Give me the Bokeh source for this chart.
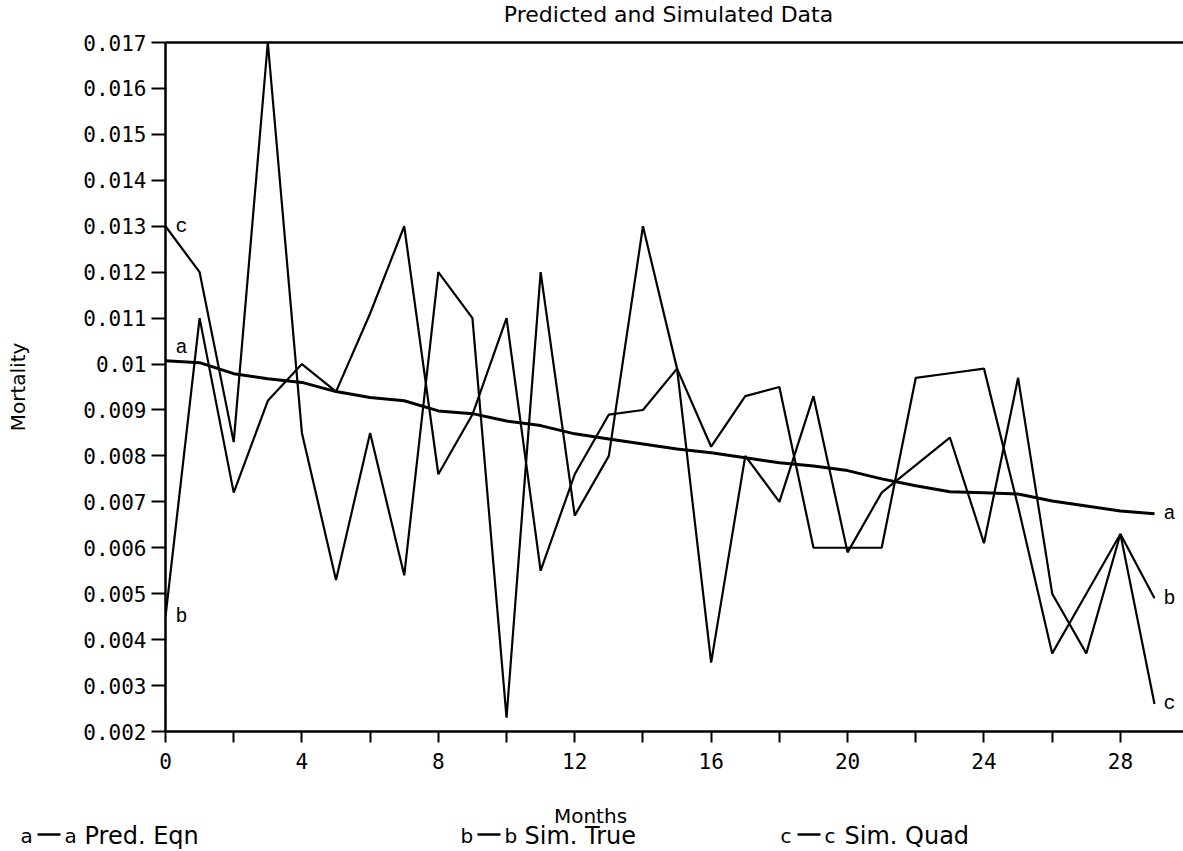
from bokeh.plotting import figure
from bokeh.layouts import column
from bokeh.models import Range1d, FixedTicker, LinearAxis
from bokeh.embed import file_html
from bokeh.resources import INLINE
from bokeh.core.properties import value

# ---------------- data ----------------
months = list(range(30))
pred_eqn = [0.01007, 0.01003, 0.00979, 0.00968, 0.00960, 0.00940, 0.00927, 0.00920,
            0.00898, 0.00892, 0.00876, 0.00866, 0.00848, 0.00837, 0.00826, 0.00815,
            0.00807, 0.00796, 0.00785, 0.00778, 0.00768, 0.00750, 0.00735, 0.00722,
            0.00720, 0.00717, 0.00702, 0.00691, 0.00680, 0.00674]
sim_true = [0.0045, 0.0110, 0.0072, 0.0092, 0.0100, 0.0094, 0.0111, 0.0130,
            0.0076, 0.0089, 0.0110, 0.0055, 0.0076, 0.0089, 0.0090, 0.0099,
            0.0082, 0.0093, 0.0095, 0.0060, 0.0060, 0.0060, 0.0097, 0.0098,
            0.0099, 0.0069, 0.0037, 0.0050, 0.0063, 0.0049]
sim_quad = [0.0130, 0.0120, 0.0083, 0.0170, 0.0085, 0.0053, 0.0085, 0.0054,
            0.0120, 0.0110, 0.0023, 0.0120, 0.0067, 0.0080, 0.0130, 0.0099,
            0.0035, 0.0080, 0.0070, 0.0093, 0.0059, 0.0072, 0.0078, 0.0084,
            0.0061, 0.0097, 0.0050, 0.0037, 0.0063, 0.0026]
series_keys = ["a", "b", "c"]
series_names = ["Pred. Eqn", "Sim. True", "Sim. Quad"]

y_ticks = [0.002, 0.003, 0.004, 0.005, 0.006, 0.007, 0.008, 0.009, 0.01,
           0.011, 0.012, 0.013, 0.014, 0.015, 0.016, 0.017]
y_tick_labels = ["0.002", "0.003", "0.004", "0.005", "0.006", "0.007", "0.008", "0.009",
                 "0.01", "0.011", "0.012", "0.013", "0.014", "0.015", "0.016", "0.017"]
x_ticks = [0, 4, 8, 12, 16, 20, 24, 28]
x_minor_ticks = [2, 6, 10, 14, 18, 22, 26]
title_text = "Predicted and Simulated Data"
x_title = "Months"
y_title = "Mortality"

FONT = "DejaVu Sans"
MONO = "DejaVu Sans Mono"
W = 1183
TOP_H, MAIN_H, BOT_H = 27, 768, 56


def no_align(f):
    try:
        f.frame_align = False
    except Exception:
        pass
    return f


def text_strip(height):
    f = figure(width=W, height=height, x_range=Range1d(0, W), y_range=Range1d(0, height),
               x_axis_type=None, y_axis_type=None, output_backend="svg",
               toolbar_location=None, min_border=0)
    f.outline_line_color = None
    f.xgrid.visible = False
    f.ygrid.visible = False
    return no_align(f)


# ---------------- title strip ----------------
top = text_strip(TOP_H)
top.text(x=[668], y=[TOP_H / 2], text=[title_text], text_align="center",
         text_baseline="middle", text_font=value(FONT), text_font_size="22px",
         text_color="black")

# ---------------- main chart ----------------
p = figure(width=W, height=MAIN_H,
           x_range=Range1d(0, 29.85), y_range=Range1d(0.002, 0.017),
           output_backend="svg", toolbar_location=None,
           min_border_left=165, min_border_right=0,
           min_border_top=15, min_border_bottom=64)
no_align(p)
p.outline_line_color = None
p.xgrid.visible = False
p.ygrid.visible = False

p.yaxis.ticker = FixedTicker(ticks=y_ticks)
p.yaxis.major_label_overrides = {t: l for t, l in zip(y_ticks, y_tick_labels)}
p.yaxis.minor_tick_line_color = None
p.yaxis.major_tick_in = 0
p.yaxis.major_tick_out = 14
p.yaxis.major_label_standoff = 5
p.yaxis.axis_label = y_title
p.yaxis.axis_label_standoff = 50
p.yaxis.axis_label_text_font = FONT
p.yaxis.axis_label_text_font_size = "20px"
p.yaxis.axis_label_text_font_style = "normal"
p.yaxis.axis_label_text_color = "black"

p.xaxis.ticker = FixedTicker(ticks=x_ticks, minor_ticks=x_minor_ticks)
p.xaxis.major_tick_in = 0
p.xaxis.major_tick_out = 11
p.xaxis.minor_tick_in = 0
p.xaxis.minor_tick_out = 11
p.xaxis.major_label_standoff = 10
for ax in (p.xaxis, p.yaxis):
    ax.axis_line_width = 2.5
    ax.axis_line_color = "black"
    ax.major_tick_line_width = 2
    ax.major_tick_line_color = "black"
    ax.minor_tick_line_width = 2
    ax.minor_tick_line_color = "black"
    ax.major_label_text_font = MONO
    ax.major_label_text_font_size = "21px"
    ax.major_label_text_color = "black"

top_axis = LinearAxis(ticker=FixedTicker(ticks=[]), major_label_text_font_size="0px",
                      major_tick_in=0, major_tick_out=0, minor_tick_in=0, minor_tick_out=0,
                      axis_line_width=2.5, axis_line_color="black")
p.add_layout(top_axis, "above")

series = [pred_eqn, sim_true, sim_quad]
widths = [3.0, 2.2, 2.2]
for vals, w in zip(series, widths):
    p.line(months, vals, line_color="black", line_width=w)

start_offsets = [-13, 0, 0]
p.text(x=[months[0]] * 3, y=[s[0] for s in series], text=series_keys,
       x_offset=10, y_offset=start_offsets, text_align="left", text_baseline="middle",
       text_font=value("Liberation Mono"), text_font_size="20px", text_color="black")
p.text(x=[months[-1]] * 3, y=[s[-1] for s in series], text=series_keys,
       x_offset=9, text_align="left", text_baseline="middle",
       text_font=value("Liberation Mono"), text_font_size="20px", text_color="black")

# ---------------- x title + legend strip ----------------
bot = text_strip(BOT_H)
bot.text(x=[590], y=[BOT_H - 20], text=[x_title], text_align="center",
         text_baseline="middle", text_font=value(FONT), text_font_size="20px",
         text_color="black")

legend_x = [20, 460, 780]
legend_y = 16
bot.text(x=legend_x, y=[legend_y] * 3, text=series_keys, text_align="left",
         text_baseline="middle", text_font=value(FONT), text_font_size="20px",
         text_color="black")
bot.segment(x0=[lx + 17 for lx in legend_x], y0=[legend_y + 1] * 3,
            x1=[lx + 40 for lx in legend_x], y1=[legend_y + 1] * 3,
            line_color="black", line_width=2.5)
bot.text(x=[lx + 44 for lx in legend_x], y=[legend_y] * 3, text=series_keys,
         text_align="left", text_baseline="middle", text_font=value(FONT),
         text_font_size="20px", text_color="black")
bot.text(x=[lx + 64 for lx in legend_x], y=[legend_y] * 3, text=series_names,
         text_align="left", text_baseline="middle", text_font=value(FONT),
         text_font_size="24px", text_color="black")

layout = column(top, p, bot, spacing=0)
open("out.html", "w").write(file_html(layout, INLINE))
